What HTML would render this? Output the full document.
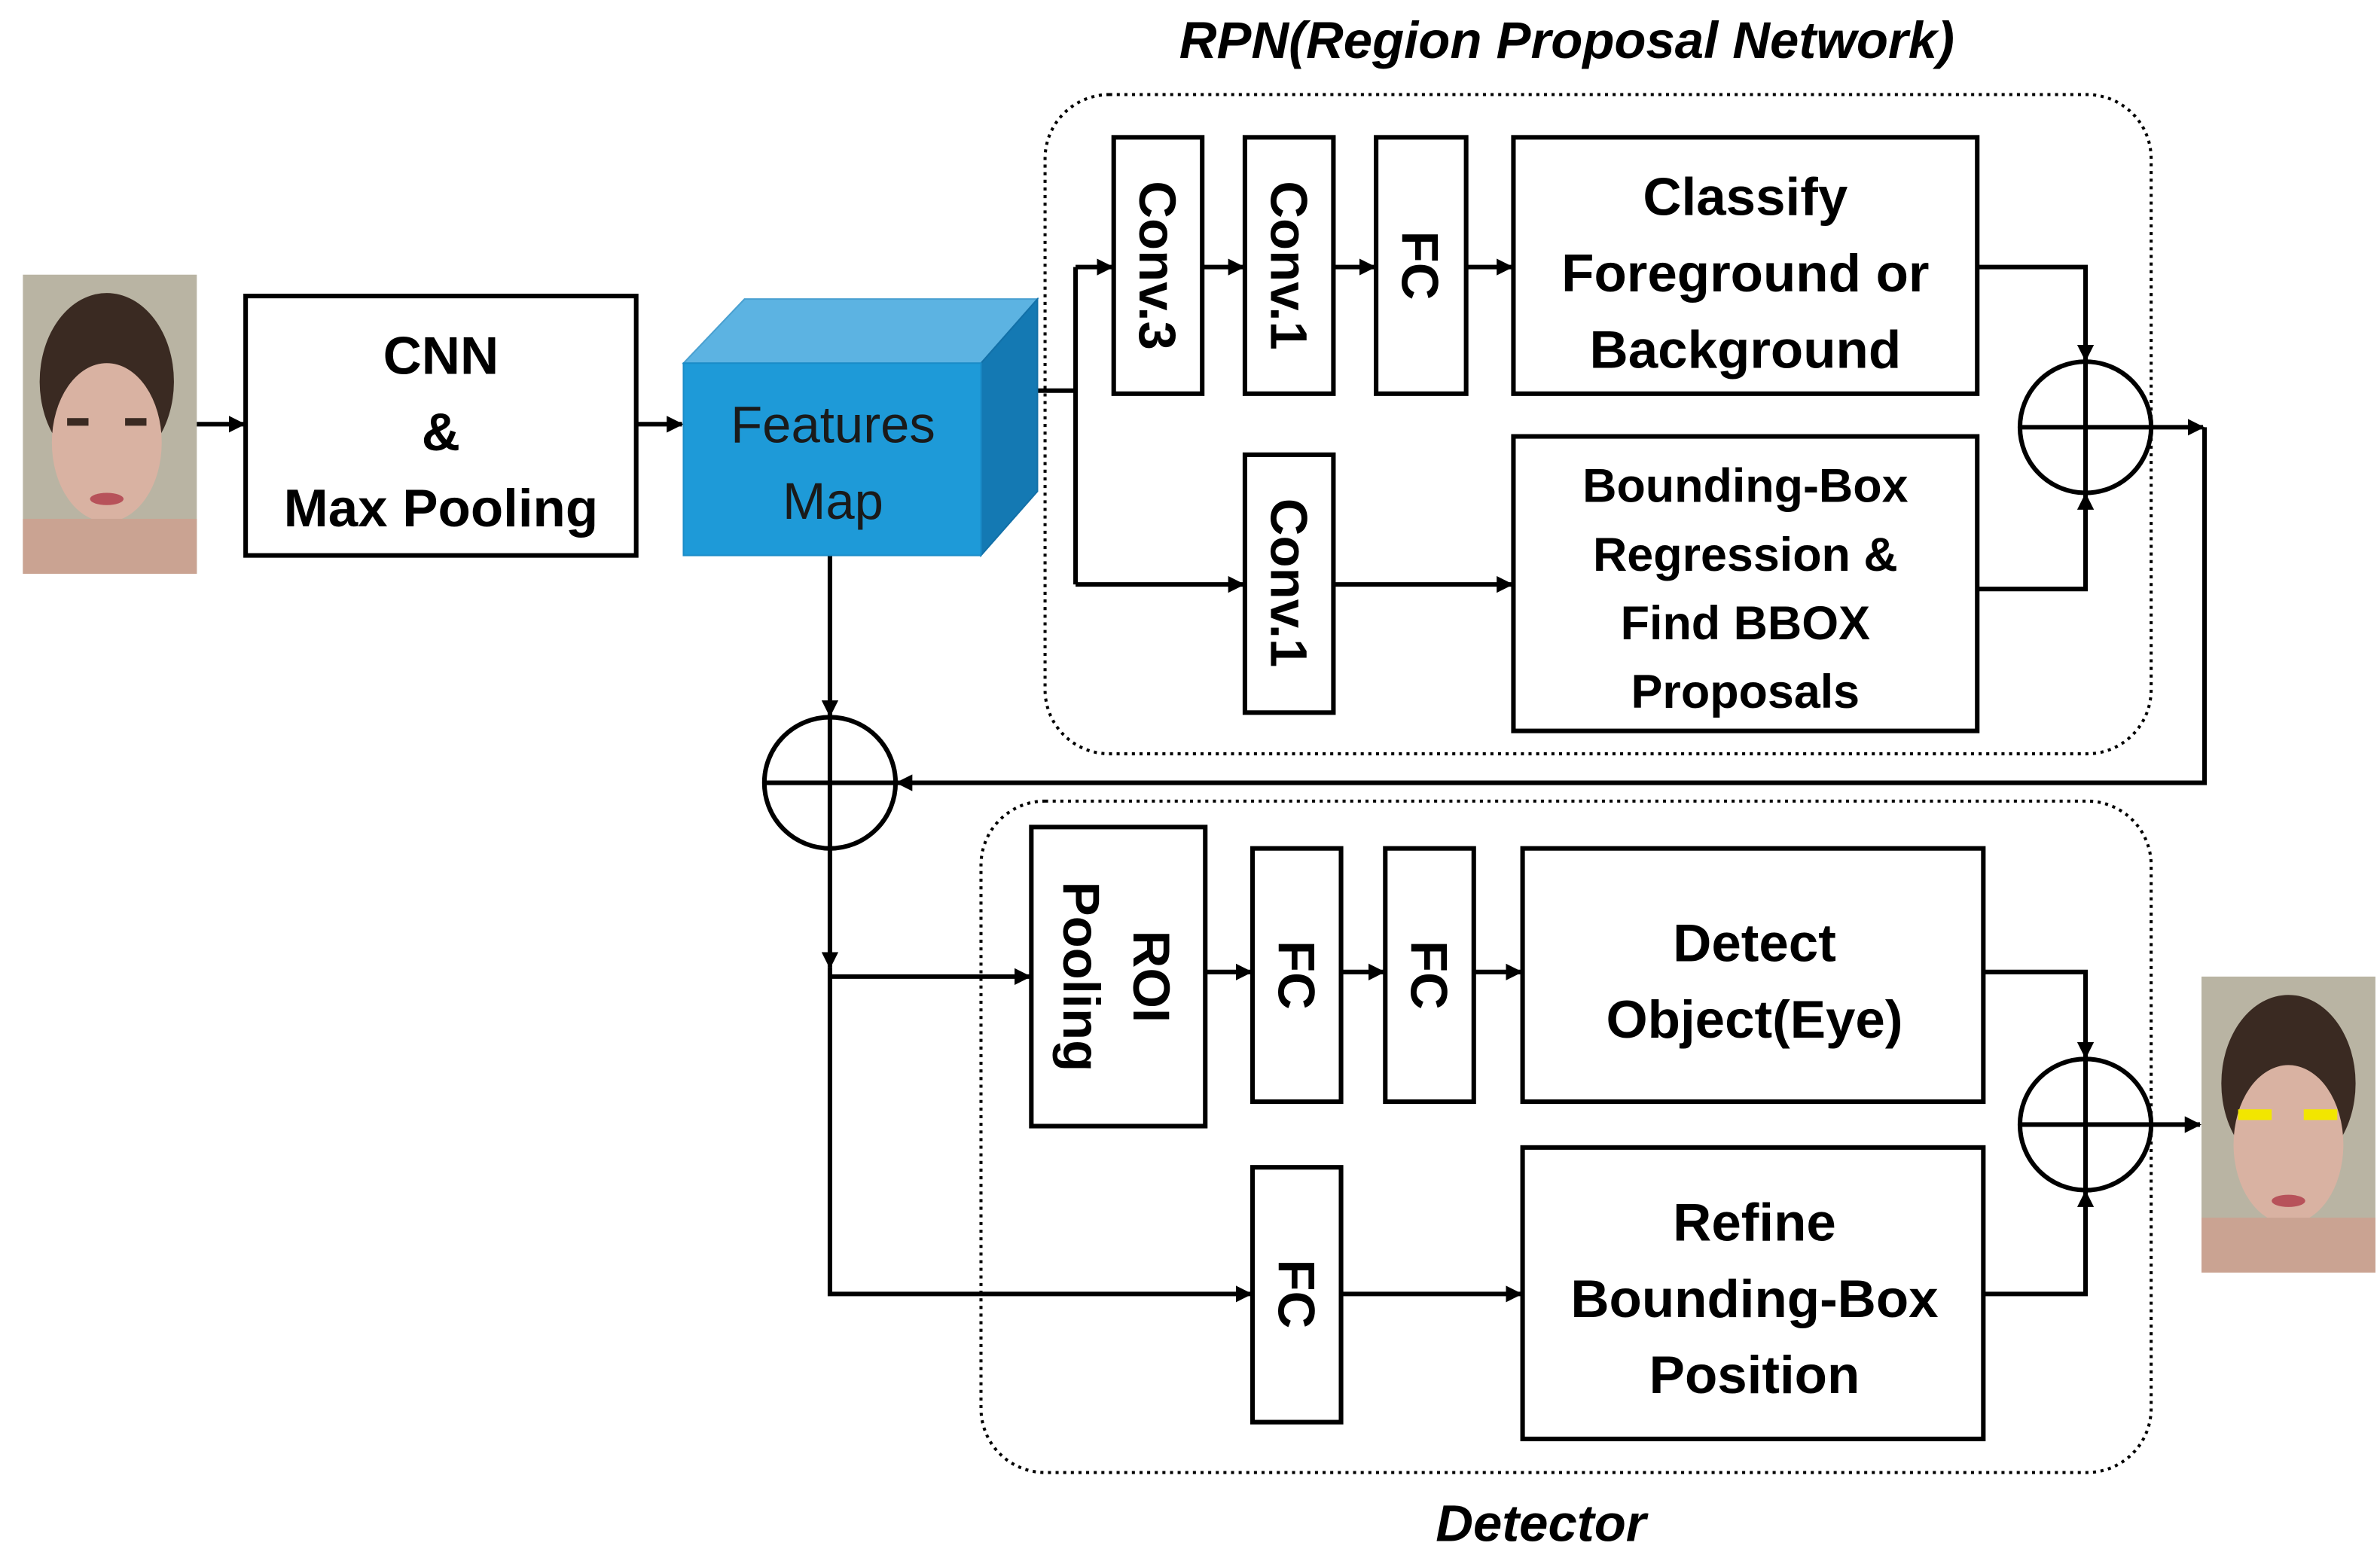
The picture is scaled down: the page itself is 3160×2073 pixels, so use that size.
<!DOCTYPE html>
<html><head><meta charset="utf-8"><style>
html,body{margin:0;padding:0;background:#fff;}
svg{display:block;}
text{font-family:"Liberation Sans",sans-serif;}
</style></head><body>
<svg width="3160" height="2073" viewBox="0 0 1560 1023" preserveAspectRatio="none" xmlns="http://www.w3.org/2000/svg">
<defs>
<marker id="a" markerWidth="11" markerHeight="11" refX="10" refY="5.5" orient="auto" markerUnits="userSpaceOnUse"><path d="M0,0 L11,5.5 L0,11 z" fill="#000"/></marker>
</defs>
<rect width="1560" height="1023" fill="#fff"/>
<!-- left face -->
<rect x="15" y="180" width="114" height="196" fill="#b9b4a3"/>
<ellipse cx="70" cy="250" rx="44" ry="58" fill="#3a2a22"/>
<ellipse cx="70" cy="290" rx="36" ry="52" fill="#d9b2a2"/>
<rect x="15" y="340" width="114" height="36" fill="#caa392"/>
<rect x="44" y="274" width="14" height="5" fill="#3a2a22"/><rect x="82" y="274" width="14" height="5" fill="#3a2a22"/>
<ellipse cx="70" cy="327" rx="11" ry="4" fill="#b7525a"/>
<!-- right face -->
<rect x="1443" y="640" width="114" height="194" fill="#b9b4a3"/>
<ellipse cx="1500" cy="710" rx="44" ry="58" fill="#3a2a22"/>
<ellipse cx="1500" cy="750" rx="36" ry="52" fill="#d9b2a2"/>
<rect x="1443" y="798" width="114" height="36" fill="#caa392"/>
<rect x="1467" y="727" width="22" height="7" fill="#f2e600"/><rect x="1510" y="727" width="22" height="7" fill="#f2e600"/>
<ellipse cx="1500" cy="787" rx="11" ry="4" fill="#b7525a"/>

<g stroke="#000" stroke-width="3" fill="none">
<rect x="685" y="62" width="725" height="432" rx="42" stroke-dasharray="2 3" stroke-width="2"/>
<rect x="643" y="525" width="767" height="440" rx="42" stroke-dasharray="2 3" stroke-width="2"/>
<rect x="161" y="194" width="256" height="170" fill="#fff"/>
<rect x="730" y="90" width="58" height="168"/>
<rect x="816" y="90" width="58" height="168"/>
<rect x="902" y="90" width="59" height="168"/>
<rect x="992" y="90" width="304" height="168"/>
<rect x="816" y="298" width="58" height="169"/>
<rect x="992" y="286" width="304" height="193"/>
<rect x="676" y="542" width="114" height="196"/>
<rect x="821" y="556" width="58" height="166"/>
<rect x="908" y="556" width="58" height="166"/>
<rect x="998" y="556" width="302" height="166"/>
<rect x="821" y="765" width="58" height="167"/>
<rect x="998" y="752" width="302" height="191"/>
<circle cx="1367" cy="280" r="43"/><path d="M1324,280H1410M1367,237V323"/>
<circle cx="544" cy="513" r="43"/><path d="M501,513H587M544,470V556"/>
<circle cx="1367" cy="737" r="43"/><path d="M1324,737H1410M1367,694V780"/>
<path d="M129,278H160" marker-end="url(#a)"/>
<path d="M417,278H447" marker-end="url(#a)"/>
<path d="M680,256H705"/>
<path d="M705,175V383"/>
<path d="M705,175H729" marker-end="url(#a)"/>
<path d="M705,383H815" marker-end="url(#a)"/>
<path d="M788,175H815" marker-end="url(#a)"/>
<path d="M874,175H901" marker-end="url(#a)"/>
<path d="M961,175H991" marker-end="url(#a)"/>
<path d="M874,383H991" marker-end="url(#a)"/>
<path d="M1296,175H1367V236" marker-end="url(#a)"/>
<path d="M1296,386H1367V324" marker-end="url(#a)"/>
<path d="M1410,280H1444" marker-end="url(#a)"/>
<path d="M1445,280V513H588" marker-end="url(#a)"/>
<path d="M544,364V469" marker-end="url(#a)"/>
<path d="M544,556V634" marker-end="url(#a)"/>
<path d="M544,634V848H820" marker-end="url(#a)"/>
<path d="M544,640H675" marker-end="url(#a)"/>
<path d="M790,637H820" marker-end="url(#a)"/>
<path d="M879,637H907" marker-end="url(#a)"/>
<path d="M966,637H997" marker-end="url(#a)"/>
<path d="M879,848H997" marker-end="url(#a)"/>
<path d="M1300,637H1367V693" marker-end="url(#a)"/>
<path d="M1300,848H1367V781" marker-end="url(#a)"/>
<path d="M1410,737H1442" marker-end="url(#a)"/>
</g>
<polygon points="448,238 488,196 680,196 643,238" fill="#5cb3e2" stroke="#4aa0d0"/>
<polygon points="643,238 680,196 680,322 643,364" fill="#1479b3" stroke="#1270a8"/>
<rect x="448" y="238" width="195" height="126" fill="#1e9ad8" stroke="#1a8cc8"/>

<g font-weight="bold" font-size="35" text-anchor="middle" fill="#000">
<text x="289" y="245">CNN</text>
<text x="289" y="295">&amp;</text>
<text x="289" y="345">Max Pooling</text>
<text x="1144" y="141">Classify</text>
<text x="1144" y="191">Foreground or</text>
<text x="1144" y="241">Background</text>
<text x="1150" y="630">Detect</text>
<text x="1150" y="680">Object(Eye)</text>
<text x="1150" y="813">Refine</text>
<text x="1150" y="863">Bounding-Box</text>
<text x="1150" y="913">Position</text>
</g>
<g font-weight="bold" font-size="31" text-anchor="middle">
<text x="1144" y="329">Bounding-Box</text>
<text x="1144" y="374">Regression &amp;</text>
<text x="1144" y="419">Find BBOX</text>
<text x="1144" y="464">Proposals</text>
</g>
<g font-size="34" text-anchor="middle" fill="#1a1a1a">
<text x="546" y="290">Features</text>
<text x="546" y="340">Map</text>
</g>
<g font-weight="bold" font-size="34" text-anchor="middle">
<text transform="translate(747,174) rotate(90)">Conv.3</text>
<text transform="translate(833,174) rotate(90)">Conv.1</text>
<text transform="translate(919,174) rotate(90)">FC</text>
<text transform="translate(833,382) rotate(90)">Conv.1</text>
<text transform="translate(838,639) rotate(90)">FC</text>
<text transform="translate(925,639) rotate(90)">FC</text>
<text transform="translate(838,848) rotate(90)">FC</text>
<text transform="translate(743,640) rotate(90)">ROI</text>
<text transform="translate(697,640) rotate(90)">Pooling</text>
</g>
<g font-weight="bold" font-style="italic" font-size="34" text-anchor="middle">
<text x="1027" y="38">RPN(Region Proposal Network)</text>
<text x="1010" y="1010">Detector</text>
</g>
</svg>
</body></html>
